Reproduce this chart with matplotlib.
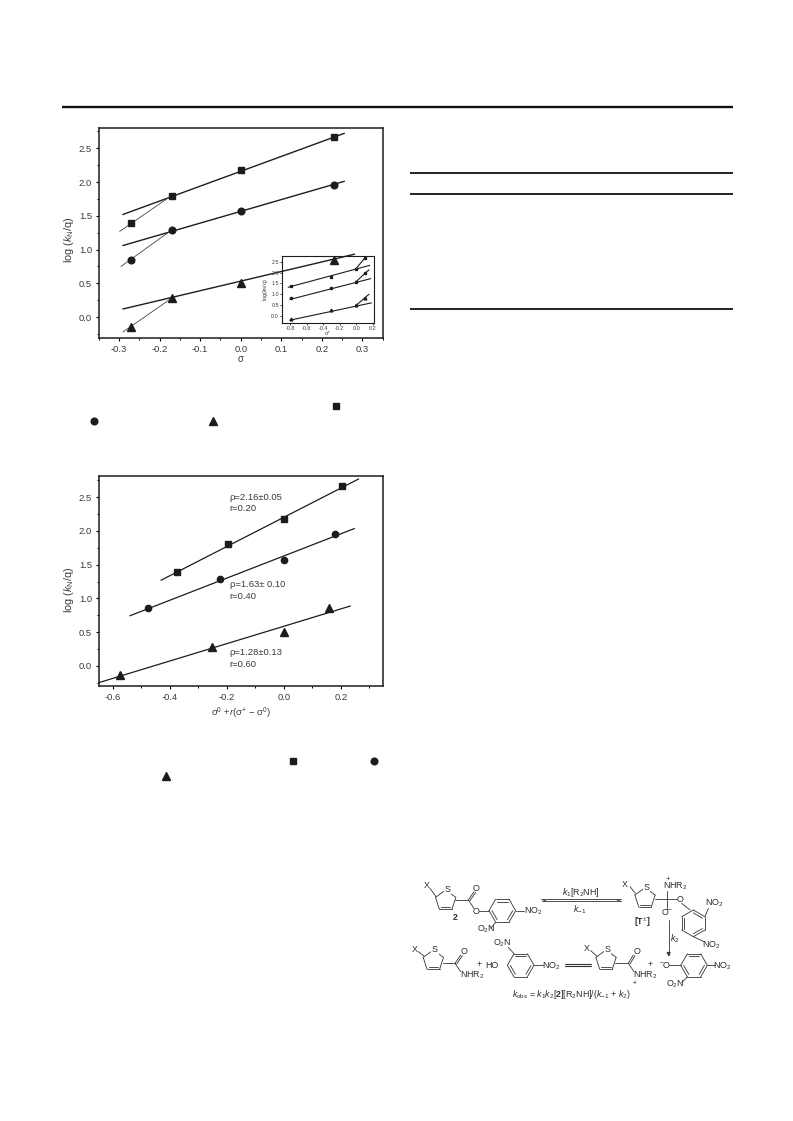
import numpy as np
import matplotlib
matplotlib.use('Agg')
import matplotlib.pyplot as plt

plt.rcParams['font.family'] = ['Liberation Sans', 'DejaVu Sans']
plt.rcParams['mathtext.fontset'] = 'custom'
plt.rcParams['mathtext.rm'] = 'Liberation Sans'
plt.rcParams['mathtext.it'] = 'Liberation Sans:italic'
plt.rcParams['mathtext.bf'] = 'Liberation Sans:bold'

W, H = 793, 1121
INK = '#1c1c1c'
TXT = '#3a3a3a'

# DATA - top chart (sigma)
sigma = [-0.27, -0.17, 0.0, 0.23]
log_sq = [1.39, 1.80, 2.18, 2.66]
log_ci = [0.85, 1.29, 1.57, 1.96]
log_tr = [-0.14, 0.28, 0.50, 0.85]

fit_sq_x, fit_sq_y = [-0.29, 0.255], [1.52, 2.72]
fit_ci_x, fit_ci_y = [-0.29, 0.255], [1.06, 2.01]
fit_tr_x, fit_tr_y = [-0.29, 0.28], [0.12, 0.93]
thin_sq_x, thin_sq_y = [-0.298, -0.17], [1.27, 1.80]
thin_ci_x, thin_ci_y = [-0.295, -0.17], [0.75, 1.29]
thin_tr_x, thin_tr_y = [-0.29, -0.17], [-0.22, 0.28]

# DATA - inset
ins_x = [-0.79, -0.30, 0.0, 0.11]
ins_fit_sq_x, ins_fit_sq_y = [-0.82, 0.16], [1.33, 2.33]
ins_fit_ci_x, ins_fit_ci_y = [-0.80, 0.17], [0.77, 1.72]
ins_fit_tr_x, ins_fit_tr_y = [-0.80, 0.18], [-0.18, 0.61]
ins_thin_sq_x, ins_thin_sq_y = [-0.005, 0.113], [2.18, 2.71]
ins_thin_ci_x, ins_thin_ci_y = [-0.005, 0.15], [1.58, 2.12]
ins_thin_tr_x, ins_thin_tr_y = [-0.005, 0.15], [0.49, 1.0]

# DATA - bottom chart
yk_sq_x = [-0.375, -0.197, 0.0, 0.205]
yk_ci_x = [-0.475, -0.225, 0.0, 0.18]
yk_tr_x = [-0.575, -0.25, 0.0, 0.158]
yk_fit_sq_x, yk_fit_sq_y = [-0.43, 0.262], [1.27, 2.77]
yk_fit_ci_x, yk_fit_ci_y = [-0.539, 0.247], [0.743, 2.035]
yk_fit_tr_x, yk_fit_tr_y = [-0.647, 0.233], [-0.248, 0.886]

x_ticks_top = [-0.3, -0.2, -0.1, 0.0, 0.1, 0.2, 0.3]
x_labels_top = ['-0.3', '-0.2', '-0.1', '0.0', '0.1', '0.2', '0.3']
x_ticks_bot = [-0.6, -0.4, -0.2, 0.0, 0.2]
x_labels_bot = ['-0.6', '-0.4', '-0.2', '0.0', '0.2']
y_ticks = [0.0, 0.5, 1.0, 1.5, 2.0, 2.5]
y_labels = ['0.0', '0.5', '1.0', '1.5', '2.0', '2.5']

fig = plt.figure(figsize=(W / 100, H / 100), dpi=100)


def axes_px(x0, y0, x1, y1, **kw):
    return fig.add_axes([x0 / W, 1 - y1 / H, (x1 - x0) / W, (y1 - y0) / H], **kw)


def style_axes(ax, xt, xl, minor_x, fs=6.8):
    ax.set_xticks(xt)
    ax.set_xticklabels(xl)
    ax.set_yticks(y_ticks)
    ax.set_yticklabels(y_labels)
    ax.set_xticks(minor_x, minor=True)
    ax.set_yticks(np.arange(-0.25, 2.8, 0.5), minor=True)
    ax.tick_params(which='major', length=2.4, width=0.8, labelsize=fs, labelcolor=TXT, pad=2.4)
    ax.tick_params(which='minor', length=1.4, width=0.7)
    for s in ax.spines.values():
        s.set_linewidth(1.1)
        s.set_color(INK)


# PAGE LAYER
page = axes_px(0, 0, W, H)
page.set_xlim(0, W)
page.set_ylim(H, 0)
page.axis('off')
page.plot([62, 733], [107, 107], color='#111111', lw=1.7, solid_capstyle='butt')
page.plot([410, 733], [173, 173], color='#111111', lw=1.3, solid_capstyle='butt')
page.plot([410, 733], [193.5, 193.5], color='#111111', lw=1.3, solid_capstyle='butt')
page.plot([410, 733], [309, 309], color='#111111', lw=1.3, solid_capstyle='butt')

# symbols left over from the captions
page.plot([335.5], [406], 's', color=INK, ms=4.4)
page.plot([94], [420.5], 'o', color=INK, ms=4.8)
page.plot([213], [421], '^', color=INK, ms=6.2)
page.plot([293], [761], 's', color=INK, ms=4.4)
page.plot([373.5], [761], 'o', color=INK, ms=4.8)
page.plot([166], [776], '^', color=INK, ms=6.2)

# TOP CHART
ax = axes_px(98.7, 128, 382.7, 338)
ax.set_xlim(-0.35, 0.35)
ax.set_ylim(-0.31, 2.80)
ax.plot(fit_sq_x, fit_sq_y, color=INK, lw=1.0)
ax.plot(fit_ci_x, fit_ci_y, color=INK, lw=1.0)
ax.plot(fit_tr_x, fit_tr_y, color=INK, lw=1.0, zorder=5)
ax.plot(thin_sq_x, thin_sq_y, color='#444444', lw=0.6)
ax.plot(thin_ci_x, thin_ci_y, color='#444444', lw=0.6)
ax.plot(thin_tr_x, thin_tr_y, color='#444444', lw=0.6)
ax.plot(sigma, log_sq, 's', color=INK, ms=4.6)
ax.plot(sigma, log_ci, 'o', color=INK, ms=4.8)
ax.plot(sigma, log_tr, '^', color=INK, ms=6.2, zorder=6)
style_axes(ax, x_ticks_top, x_labels_top, np.arange(-0.35, 0.36, 0.1))
ax.set_xlabel('\u03c3', fontsize=7, color=TXT, labelpad=0)
ax.set_ylabel(r'log ($\mathit{k}_{\mathrm{N}}$/q)', fontsize=7.8, color=TXT, labelpad=2, y=0.467)

# INSET
ins = axes_px(282.3, 256, 373.5, 323)
ins.patch.set_alpha(0)
ins.set_xlim(-0.893, 0.207)
ins.set_ylim(-0.31, 2.76)
for fx, fy in [(ins_fit_sq_x, ins_fit_sq_y), (ins_fit_ci_x, ins_fit_ci_y), (ins_fit_tr_x, ins_fit_tr_y)]:
    ins.plot(fx, fy, color=INK, lw=0.8)
for fx, fy in [(ins_thin_sq_x, ins_thin_sq_y), (ins_thin_ci_x, ins_thin_ci_y), (ins_thin_tr_x, ins_thin_tr_y)]:
    ins.plot(fx, fy, color=INK, lw=0.8)
ins.plot(ins_x, log_sq, 's', color=INK, ms=1.4)
ins.plot(ins_x, log_ci, 'o', color=INK, ms=1.6)
ins.plot(ins_x, log_tr, '^', color=INK, ms=2)
ins.set_xticks([-0.8, -0.6, -0.4, -0.2, 0.0, 0.2])
ins.set_xticklabels(['-0.8', '-0.6', '-0.4', '-0.2', '0.0', '0.2'])
ins.set_yticks(y_ticks)
ins.set_yticklabels(y_labels)
ins.tick_params(length=1.4, width=0.5, labelsize=3.9, labelcolor=TXT, pad=1)
for s in ins.spines.values():
    s.set_linewidth(0.8)
    s.set_color(INK)
ins.set_xlabel("\u03c3\u207a", fontsize=4, color=TXT, labelpad=0)
ins.set_ylabel(r'log($\mathit{k}_{\mathrm{N}}$/q)', fontsize=4, color=TXT, labelpad=1)

# BOTTOM CHART
bx = axes_px(98.7, 475.7, 383, 686)
bx.set_xlim(-0.649, 0.348)
bx.set_ylim(-0.30, 2.82)
bx.plot(yk_fit_sq_x, yk_fit_sq_y, color=INK, lw=0.9)
bx.plot(yk_fit_ci_x, yk_fit_ci_y, color=INK, lw=0.9)
bx.plot(yk_fit_tr_x, yk_fit_tr_y, color=INK, lw=0.9)
bx.plot(yk_sq_x, log_sq, 's', color=INK, ms=4.2)
bx.plot(yk_ci_x, log_ci, 'o', color=INK, ms=4.5)
bx.plot(yk_tr_x, log_tr, '^', color=INK, ms=5.6)
style_axes(bx, x_ticks_bot, x_labels_bot, [-0.5, -0.3, -0.1, 0.1, 0.3])
bx.set_xlabel(r'$\mathrm{\sigma}^{\mathrm{0}}$ +$\mathit{r}$($\mathrm{\sigma}^{+}$ $-$ $\mathrm{\sigma}^{\mathrm{0}}$)',
              fontsize=6.8, color=TXT, labelpad=3)
bx.set_ylabel(r'log ($\mathit{k}_{\mathrm{N}}$/q)', fontsize=7.8, color=TXT, labelpad=2, y=0.456)
for tx, ty, s in [(-0.19, 2.50, '\u03c1=2.16\u00b10.05'), (-0.19, 2.33, 'r=0.20'),
                  (-0.19, 1.20, '\u03c1=1.63\u00b1 0.10'), (-0.19, 1.03, 'r=0.40'),
                  (-0.19, 0.2, '\u03c1=1.28\u00b10.13'), (-0.19, 0.02, 'r=0.60')]:
    bx.text(tx, ty, s, fontsize=6.8, color=TXT, va='center')


# SCHEME - given in zoomed coords (3x from 400,860)
def zp(zx, zy):
    return 400 + zx / 3, 860 + zy / 3


def bond(x0, y0, x1, y1, lw=0.6):
    a, b = zp(x0, y0), zp(x1, y1)
    page.plot([a[0], b[0]], [a[1], b[1]], color='#333333', lw=lw, solid_capstyle='round')


def label(zx, zy, s, fs=6.4, **kw):
    a = zp(zx, zy)
    page.text(a[0], a[1], s, fontsize=fs, color='#2a2a2a', ha='center', va='center', **kw)


def ring(cx, cy, r, n, start):
    ang = np.deg2rad(start) + np.arange(n) * 2 * np.pi / n
    xs, ys = cx + r * np.cos(ang), cy + r * np.sin(ang)
    for i in range(n):
        bond(xs[i], ys[i], xs[(i + 1) % n], ys[(i + 1) % n])
    return xs, ys


def benzene(cx, cy, start):
    xs, ys = ring(cx, cy, 40, 6, start)
    ixs, iys = cx + (xs - cx) * 0.78, cy + (ys - cy) * 0.78
    for i in (0, 2, 4):
        bond(ixs[i], iys[i], ixs[i + 1], iys[i + 1])


def thiophene(cx, cy):
    xs, ys = ring(cx, cy, 32, 5, -90)
    bond(cx + 0.75 * (xs[2] - cx), cy + 0.75 * (ys[2] - cy), cx + 0.75 * (xs[3] - cx), cy + 0.75 * (ys[3] - cy))
    # white gap behind the sulphur
    a = zp(xs[0] + 5, ys[0] - 1)
    page.text(a[0], a[1], 'S', fontsize=6.4, color='#2a2a2a', ha='center', va='center',
              bbox=dict(facecolor='white', edgecolor='none', pad=0.4))
    return xs, ys


# reactant 2
thiophene(137, 122)
bond(108, 110, 90, 85)
label(80, 78, 'X')
bond(166, 120, 205, 120)
bond(205, 120, 222, 95)
bond(210, 122, 227, 97)
label(228, 86, 'O')
bond(205, 120, 222, 145)
label(228, 153, 'O')
bond(236, 152, 267, 152)
benzene(307, 152, 0)
bond(347, 152, 373, 152)
label(400, 155, 'NO$_2$')
bond(287, 187, 272, 205)
label(258, 209, 'O$_2$N')
label(165, 172, '2', fontweight='bold')

# equilibrium arrows
bond(425, 118, 662, 118)
bond(425, 124, 662, 124)
bond(425, 118, 440, 124)
bond(662, 124, 647, 118)
label(543, 97, r'$\mathit{k}_1$[R$_2$NH]')
label(540, 150, r'$\mathit{k}_{\mathrm{-1}}$')

# intermediate
thiophene(735, 115)
bond(706, 100, 690, 80)
label(673, 74, 'X')
bond(765, 118, 802, 118)
bond(802, 118, 802, 92)
label(803, 57, '+', fs=5.5)
label(825, 80, 'NHR$_2$')
bond(802, 118, 830, 118)
label(840, 120, 'O')
bond(802, 118, 802, 146)
label(802, 156, 'O$^{-}$')
bond(845, 130, 870, 150)
benzene(880, 190, -90)
bond(915, 170, 925, 145)
label(942, 130, 'NO$_2$')
bond(880, 230, 912, 245)
label(935, 255, 'NO$_2$')
label(727, 186, r'[$\mathbf{T}^{\pm}$]', fontweight='bold')
bond(806, 180, 806, 285)
page.annotate('', xy=zp(806, 298), xytext=zp(806, 275),
              arrowprops=dict(arrowstyle='-|>', color='#333333', lw=0.6, mutation_scale=6))
label(825, 236, r'$\mathit{k}_2$')

# bottom row
thiophene(100, 302)
bond(72, 288, 55, 275)
label(43, 268, 'X')
bond(128, 310, 165, 310)
bond(165, 310, 182, 285)
bond(170, 312, 187, 287)
label(192, 276, 'O')
bond(165, 310, 182, 335)
label(218, 346, 'NHR$_2$')
label(237, 315, '+')
label(275, 316, 'HO')
benzene(362, 316, 0)
bond(402, 316, 430, 316)
label(455, 318, 'NO$_2$')
bond(342, 281, 325, 262)
label(308, 250, 'O$_2$N')
bond(495, 312, 572, 312, 0.8)
bond(495, 318, 572, 318, 0.8)
thiophene(618, 302)
bond(590, 288, 572, 272)
label(560, 266, 'X')
bond(646, 310, 685, 310)
bond(685, 310, 700, 285)
bond(690, 312, 705, 287)
label(710, 276, 'O')
bond(685, 310, 702, 335)
label(735, 346, 'NHR$_2$')
label(705, 372, '+', fs=5)
label(750, 312, '+')
label(795, 316, '$^{-}$O')
bond(808, 316, 842, 316)
benzene(882, 316, 0)
bond(922, 316, 945, 316)
label(968, 318, 'NO$_2$')
bond(862, 351, 845, 368)
label(825, 373, 'O$_2$N')
label(515, 403, r'$\mathit{k}_{\mathrm{obs}}$ = $\mathit{k}_1\mathit{k}_2$[$\mathbf{2}$][R$_2$NH]/($\mathit{k}_{\mathrm{-1}}$ + $\mathit{k}_2$)')

fig.savefig('out.png', dpi=100)
